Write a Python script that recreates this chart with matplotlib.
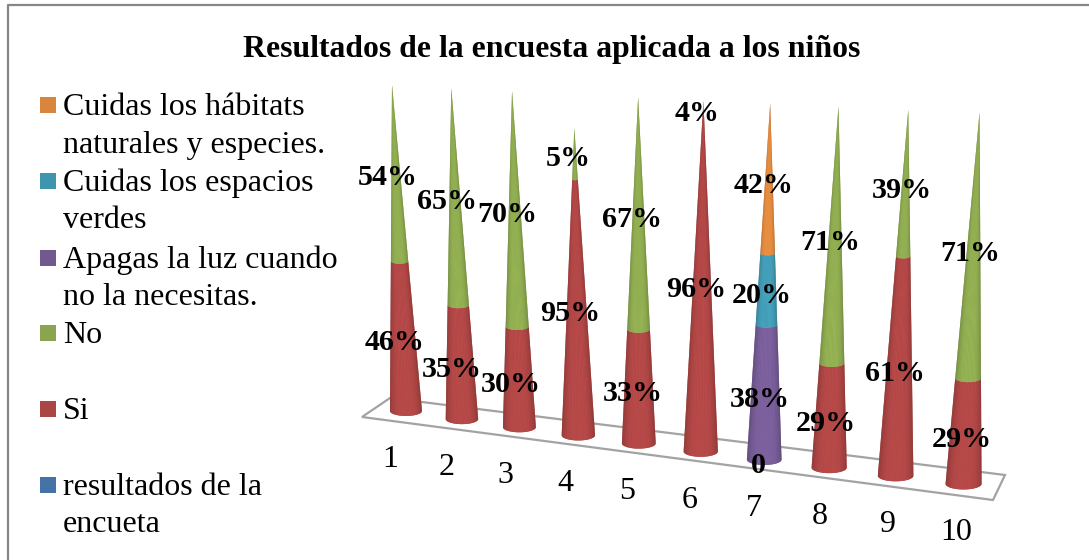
import numpy as np
import matplotlib
matplotlib.use("Agg")
import matplotlib.pyplot as plt
from matplotlib.patches import Rectangle, Polygon
from matplotlib.collections import PolyCollection

# === Data ===
categories = ["1", "2", "3", "4", "5", "6", "7", "8", "9", "10"]

# values as drawn (share of the cone height)
si_drawn = [46, 34.5, 30, 83.4, 33, 96, 0, 29, 60, 28.5]
no_drawn = [54, 65.5, 70, 16.6, 67, 4, 0, 71, 40, 71.5]
apagas_drawn = [0, 0, 0, 0, 0, 0, 38, 0, 0, 0]
espacios_drawn = [0, 0, 0, 0, 0, 0, 20, 0, 0, 0]
habitats_drawn = [0, 0, 0, 0, 0, 0, 42, 0, 0, 0]

# cone 4 comes out shorter than the others in the picture
full_height = [100, 100, 100, 90, 100, 100, 100, 100, 100, 100]

# values as printed on the labels
si_labels = ["46%", "35%", "30%", "95%", "33%", "96%", "", "29%", "61%", "29%"]
no_labels = ["54%", "65%", "70%", "5%", "67%", "4%", "", "71%", "39%", "71%"]
apagas_labels = ["", "", "", "", "", "", "38%", "", "", ""]
espacios_labels = ["", "", "", "", "", "", "20%", "", "", ""]
habitats_labels = ["", "", "", "", "", "", "42%", "", "", ""]

title = "Resultados de la encuesta aplicada a los niños"
legend_names = ["Cuidas los hábitats\nnaturales y especies.", "Cuidas los espacios\nverdes",
                "Apagas la luz cuando\nno la necesitas.", "No", "Si", "resultados de la\nencueta"]
legend_colors = ["#db843d", "#3d96ae", "#71588f", "#89a54e", "#aa4643", "#4572a7"]

# === Settings ===
SERIF = "Liberation Serif"
GREY = "#878787"
RED = "#b84a49"
GREEN = "#96b454"
PURPLE = "#7e62a0"
TEAL = "#45a3bd"
ORANGE = "#ee9243"


# === Fake 3D layout, all in pixels of the picture ===
def base_x(i):
    return 406 + 55.2 * i + 0.75 * i ** 2


def base_y(i):
    return 411 + 8.1 * i


def apex_shift(i):
    return -14 + 3.33 * i


def cone_height(i):
    return (326 + 5 * i) * full_height[i] / 100


def radius(i):
    return 16 + 0.22 * i


def surface(i, f, a):
    r = radius(i) * (1 - f)
    return (base_x(i) + apex_shift(i) * f + r * np.sin(a),
            base_y(i) - cone_height(i) * f + 0.31 * r * np.cos(a))


def shade(color, k):
    rgb = np.array(matplotlib.colors.to_rgb(color))
    return tuple(rgb * k)


def draw_segment(ax, i, f0, f1, color):
    # one piece of the cone, cut in slices around the front so it gets round shading
    angles = np.linspace(-np.pi / 2, np.pi / 2, 29)
    z = 3 + i * 0.01

    # plain piece underneath, else white shines through between the slices
    outline = [surface(i, f0, a) for a in angles] + [surface(i, f1, a) for a in angles[::-1]]
    ax.add_patch(Polygon(outline, closed=True, facecolor=shade(color, 0.9), edgecolor="none", zorder=z))

    polys, cols = [], []
    for a0, a1 in zip(angles[:-1], angles[1:]):
        polys.append([surface(i, f0, a0), surface(i, f0, a1), surface(i, f1, a1), surface(i, f1, a0)])
        m = abs(np.sin((a0 + a1) / 2))
        cols.append(shade(color, 1 - 0.25 * m ** 4))
    ax.add_collection(PolyCollection(polys, facecolors=cols, edgecolors="none", linewidths=0, zorder=z))


# === Figure ===
fig = plt.figure(figsize=(10.89, 5.6), dpi=100)
ax = fig.add_axes([0, 0, 1, 1])
ax.set_xlim(0, 1089)
ax.set_ylim(560, 0)
ax.axis("off")

# frame, only the left and top sides are inside the picture
ax.plot([7.5, 7.5, 1089], [560, 5, 5], color=GREY, linewidth=1.6)

ax.text(552, 56.5, title, family=SERIF, fontsize=22.9, fontweight="bold", ha="center", va="baseline")

# legend
y_lines = [115, 153, 191, 228, 268, 305, 343, 419, 495, 532]
k = 0
for name, col in zip(legend_names, legend_colors):
    for j, line in enumerate(name.split("\n")):
        ax.text(63, y_lines[k], line, family=SERIF, fontsize=23, va="baseline", ha="left")
        if j == 0:
            ax.add_patch(Rectangle((40, y_lines[k] - 18), 16, 16, facecolor=col, edgecolor="none"))
        k += 1

# floor of the chart
ax.add_patch(Polygon([(362, 417), (390, 398), (1005, 475), (993, 500)], closed=True, facecolor="white",
                     edgecolor="#a3a3a3", linewidth=1.6, zorder=1))

# cones
series = [(apagas_drawn, apagas_labels, PURPLE), (si_drawn, si_labels, RED), (no_drawn, no_labels, GREEN),
          (espacios_drawn, espacios_labels, TEAL), (habitats_drawn, habitats_labels, ORANGE)]
for i in range(len(categories)):
    f = 0.0
    for drawn, labels, color in series:
        v = drawn[i] / 100
        if v == 0:
            continue
        draw_segment(ax, i, f, f + v, color)
        mid = f + v / 2
        ax.text(base_x(i) + apex_shift(i) * mid - 8.5 + 0.55 * i,
                base_y(i) - cone_height(i) * mid + 8 - 5 * mid * (1 - i / 9),
                labels[i], family=SERIF, fontsize=21.6, fontweight="bold", ha="center", va="center", zorder=5)
        f += v

# the empty "resultados" series only shows its label
ax.text(base_x(6) - 6, base_y(6) + 6, "0", family=SERIF, fontsize=21.6, fontweight="bold",
        ha="center", va="center", zorder=5)

# category labels
for i, cat in enumerate(categories):
    ax.text(base_x(i) - 16 + i, base_y(i) + 48.5, cat, family=SERIF, fontsize=23, ha="center", va="center")

fig.savefig("out.png", dpi=100)
